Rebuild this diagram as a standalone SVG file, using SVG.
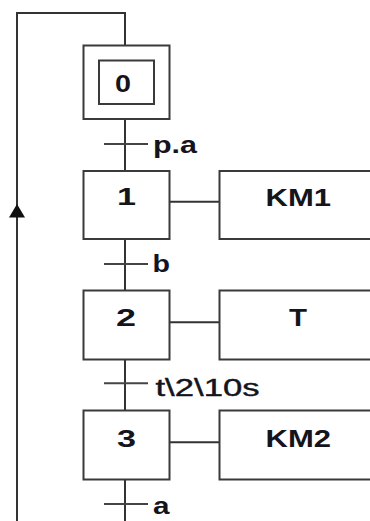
<svg xmlns="http://www.w3.org/2000/svg" width="370" height="521" viewBox="0 0 370 521">
  <style>
    .box { fill: #ffffff; stroke: #3a3a3a; stroke-width: 2; }
    .ln { fill: none; stroke: #333333; stroke-width: 2; }
    .tick { fill: none; stroke: #444444; stroke-width: 2; }
    .lbl { font-family: "Liberation Sans", Arial, sans-serif; font-size: 23px; fill: #14141c; font-weight: bold; }
    .cond { font-family: "Liberation Sans", Arial, sans-serif; font-size: 23px; fill: #14141c; }
  </style>
  <rect width="370" height="521" fill="#ffffff"/>

  <g id="connectors">
    <polyline class="ln" points="125,45.5 125,13 17,13 17,521"/>
    <polygon points="17,204 9,217.5 25,217.5" fill="#111111"/>
    <line class="ln" x1="125" y1="119" x2="125" y2="171"/>
    <line class="ln" x1="125" y1="239" x2="125" y2="290.5"/>
    <line class="ln" x1="125" y1="359.5" x2="125" y2="410.5"/>
    <line class="ln" x1="125" y1="479.5" x2="125" y2="521"/>
    <line class="ln" x1="169.5" y1="201.7" x2="219.5" y2="201.7"/>
    <line class="ln" x1="169.5" y1="322.3" x2="219.5" y2="322.3"/>
    <line class="ln" x1="169.5" y1="442.3" x2="219.5" y2="442.3"/>
  </g>

  <g id="step0">
    <rect class="box" x="83.5" y="45.5" width="86" height="73.5"/>
    <rect class="box" x="99" y="60.5" width="55" height="43.5"/>
    <text class="lbl" x="115" y="92" textLength="16" lengthAdjust="spacingAndGlyphs">0</text>
  </g>

  <g id="t1">
    <line class="tick" x1="104" y1="144" x2="148" y2="144"/>
    <text class="lbl" x="153" y="153" textLength="44" lengthAdjust="spacingAndGlyphs">p.a</text>
  </g>

  <g id="step1">
    <rect class="box" x="83.5" y="171" width="86" height="68"/>
    <text class="lbl" x="117" y="205" textLength="19" lengthAdjust="spacingAndGlyphs">1</text>
  </g>
  <g id="action1">
    <rect class="box" x="219.5" y="171" width="170" height="68"/>
    <text class="lbl" x="265.5" y="206" textLength="65.5" lengthAdjust="spacingAndGlyphs">KM1</text>
  </g>

  <g id="t2">
    <line class="tick" x1="104" y1="264" x2="148" y2="264"/>
    <text class="lbl" x="152.5" y="271.5" textLength="17.5" lengthAdjust="spacingAndGlyphs">b</text>
  </g>

  <g id="step2">
    <rect class="box" x="83.5" y="290.5" width="86" height="69"/>
    <text class="lbl" x="116" y="326" textLength="20" lengthAdjust="spacingAndGlyphs">2</text>
  </g>
  <g id="action2">
    <rect class="box" x="219.5" y="290.5" width="170" height="69"/>
    <text class="lbl" x="289" y="326" textLength="18" lengthAdjust="spacingAndGlyphs">T</text>
  </g>

  <g id="t3">
    <line class="tick" x1="104" y1="383.3" x2="148" y2="383.3"/>
    <text class="cond" x="155.5" y="395.5" textLength="104" lengthAdjust="spacingAndGlyphs" stroke="#14141c" stroke-width="0.4">t\2\10s</text>
  </g>

  <g id="step3">
    <rect class="box" x="83.5" y="410.5" width="86" height="69"/>
    <text class="lbl" x="117" y="447" textLength="19" lengthAdjust="spacingAndGlyphs">3</text>
  </g>
  <g id="action3">
    <rect class="box" x="219.5" y="410.5" width="170" height="69"/>
    <text class="lbl" x="265.5" y="447" textLength="65.5" lengthAdjust="spacingAndGlyphs">KM2</text>
  </g>

  <g id="t4">
    <line class="tick" x1="104" y1="504" x2="148" y2="504"/>
    <text class="lbl" x="153" y="514" textLength="16.5" lengthAdjust="spacingAndGlyphs">a</text>
  </g>
</svg>
